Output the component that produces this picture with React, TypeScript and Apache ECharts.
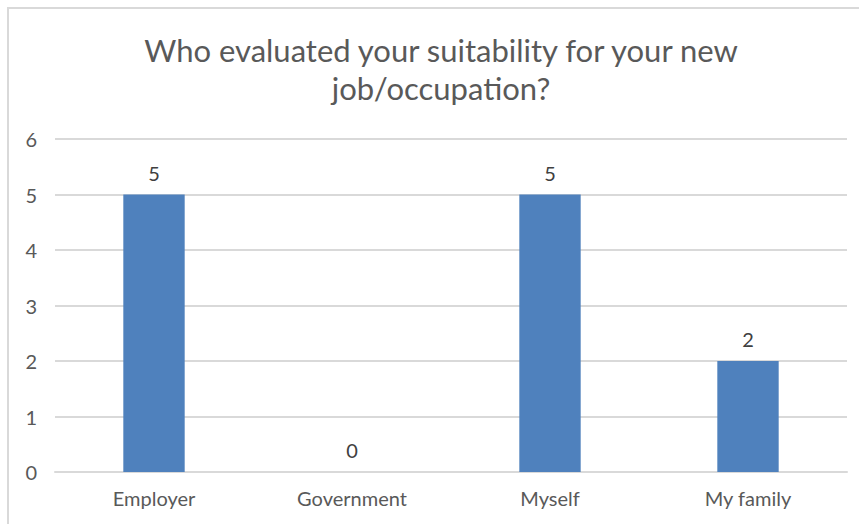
import React, { useEffect, useRef } from "react";
import * as echarts from "echarts";

const categories = ["Employer", "Government", "Myself", "My family"];
const values = [5, 0, 5, 2];
const yTicks = [0, 1, 2, 3, 4, 5, 6];
const titleText = "Who evaluated your suitability for your new\njob/occupation?";

export default function App() {
  const ref = useRef<HTMLDivElement>(null);
  useEffect(() => {
    if (!ref.current) return;
    const chart = echarts.init(ref.current, undefined, { renderer: "svg" });
    chart.setOption({
      animation: false,
      backgroundColor: "#ffffff",
      title: {
        text: titleText,
        left: 436,
        textAlign: "center",
        top: 26,
        textStyle: {
          fontFamily: "Lato",
          fontSize: 31,
          fontWeight: "normal",
          color: "#595959",
          lineHeight: 38,
        },
      },
      graphic: [
        {
          type: "rect",
          shape: { x: 8, y: 8, width: 870, height: 540 },
          style: { fill: "none", stroke: "#d9d9d9", lineWidth: 2 },
          silent: true,
        },
      ],
      grid: { left: 55, right: 12, top: 139, bottom: 52, containLabel: false },
      xAxis: {
        type: "category",
        data: categories,
        axisLine: { show: true, lineStyle: { color: "#d9d9d9", width: 2 } },
        axisTick: { show: false },
        axisLabel: { color: "#595959", fontFamily: "Lato", fontSize: 20, margin: 16 },
      },
      yAxis: {
        type: "value",
        min: yTicks[0],
        max: yTicks[yTicks.length - 1],
        interval: 1,
        axisLine: { show: false },
        axisTick: { show: false },
        splitLine: { lineStyle: { color: "#d9d9d9", width: 2 } },
        axisLabel: { color: "#595959", fontFamily: "Lato", fontSize: 20, margin: 18 },
      },
      series: [
        {
          type: "bar",
          data: values,
          barWidth: "31%",
          itemStyle: { color: "#4f81bd" },
          label: {
            show: true,
            position: "top",
            distance: 12,
            color: "#404040",
            fontFamily: "Lato",
            fontSize: 20,
          },
        },
      ],
    });
    return () => chart.dispose();
  }, []);
  return (
    <div
      ref={ref}
      style={{ position: "absolute", left: 0, top: 0, width: 859, height: 524 }}
    />
  );
}
